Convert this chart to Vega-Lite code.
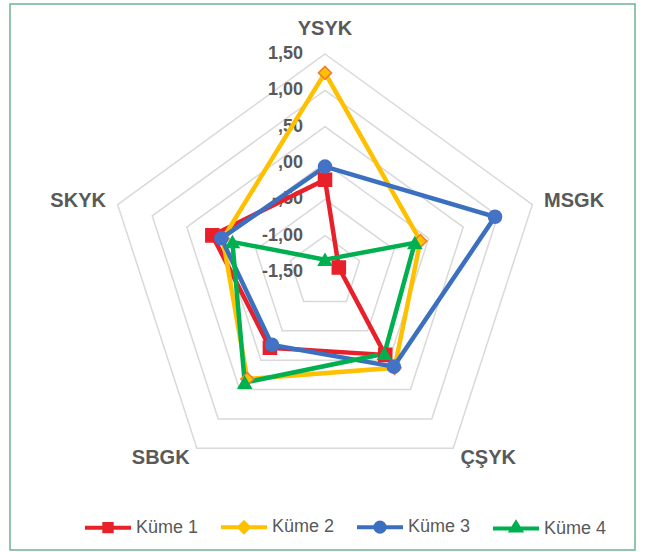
{
  "$schema": "https://vega.github.io/schema/vega-lite/v6.json",
  "width": 625,
  "height": 546,
  "padding": {"left": 10, "top": 4, "right": 12, "bottom": 2},
  "autosize": {"type": "none"},
  "background": "white",
  "config": {"view": {"stroke": "#6DB391", "strokeWidth": 1.5}, "font": "Liberation Sans"},
  "datasets": {
    "series": [
      {"series": "Küme 1", "axis": "YSYK", "value": -0.23},
      {"series": "Küme 1", "axis": "MSGK", "value": -1.30},
      {"series": "Küme 1", "axis": "ÇŞYK", "value": -0.09},
      {"series": "Küme 1", "axis": "SBGK", "value": -0.21},
      {"series": "Küme 1", "axis": "SKYK", "value": 0.13},
      {"series": "Küme 2", "axis": "YSYK", "value": 1.24},
      {"series": "Küme 2", "axis": "MSGK", "value": -0.12},
      {"series": "Küme 2", "axis": "ÇŞYK", "value": 0.13},
      {"series": "Küme 2", "axis": "SBGK", "value": 0.32},
      {"series": "Küme 2", "axis": "SKYK", "value": -0.02},
      {"series": "Küme 3", "axis": "YSYK", "value": -0.05},
      {"series": "Küme 3", "axis": "MSGK", "value": 0.96},
      {"series": "Küme 3", "axis": "ÇŞYK", "value": 0.11},
      {"series": "Küme 3", "axis": "SBGK", "value": -0.26},
      {"series": "Küme 3", "axis": "SKYK", "value": 0.00},
      {"series": "Küme 4", "axis": "YSYK", "value": -1.33},
      {"series": "Küme 4", "axis": "MSGK", "value": -0.20},
      {"series": "Küme 4", "axis": "ÇŞYK", "value": -0.11},
      {"series": "Küme 4", "axis": "SBGK", "value": 0.38},
      {"series": "Küme 4", "axis": "SKYK", "value": -0.16}
    ],
    "grid": [
      {"level": 1.5, "axis": ["YSYK", "MSGK", "ÇŞYK", "SBGK", "SKYK"]},
      {"level": 1.0, "axis": ["YSYK", "MSGK", "ÇŞYK", "SBGK", "SKYK"]},
      {"level": 0.5, "axis": ["YSYK", "MSGK", "ÇŞYK", "SBGK", "SKYK"]},
      {"level": 0.0, "axis": ["YSYK", "MSGK", "ÇŞYK", "SBGK", "SKYK"]},
      {"level": -0.5, "axis": ["YSYK", "MSGK", "ÇŞYK", "SBGK", "SKYK"]},
      {"level": -1.0, "axis": ["YSYK", "MSGK", "ÇŞYK", "SBGK", "SKYK"]}
    ],
    "ticks": [
      {"level": 1.5, "label": "1,50"},
      {"level": 1.0, "label": "1,00"},
      {"level": 0.5, "label": ",50"},
      {"level": 0.0, "label": ",00"},
      {"level": -0.5, "label": "-,50"},
      {"level": -1.0, "label": "-1,00"},
      {"level": -1.5, "label": "-1,50"}
    ],
    "cats": [
      {"axis": "YSYK"}, {"axis": "MSGK"}, {"axis": "ÇŞYK"}, {"axis": "SBGK"}, {"axis": "SKYK"}
    ]
  },
  "encoding": {
    "x": {"field": "px", "type": "quantitative", "scale": {"domain": [-4.335, 4.266], "nice": false, "zero": false}, "axis": null},
    "y": {"field": "py", "type": "quantitative", "scale": {"domain": [-3.826, 3.688], "nice": false, "zero": false}, "axis": null}
  },
  "layer": [
    {
      "data": {"name": "grid"},
      "transform": [
        {"flatten": ["axis"]},
        {"calculate": "indexof(['YSYK','MSGK','ÇŞYK','SBGK','SKYK'], datum.axis)", "as": "idx"},
        {"calculate": "(datum.level + 1.5) * sin(datum.idx * 2 * PI / 5)", "as": "px"},
        {"calculate": "(datum.level + 1.5) * cos(datum.idx * 2 * PI / 5)", "as": "py"}
      ],
      "mark": {"type": "line", "interpolate": "linear-closed", "stroke": "#D9D9D9", "strokeWidth": 1.5},
      "encoding": {"detail": {"field": "level"}, "order": {"field": "idx", "type": "quantitative"}}
    },
    {
      "data": {"name": "ticks"},
      "transform": [
        {"calculate": "0", "as": "px"},
        {"calculate": "datum.level + 1.5", "as": "py"}
      ],
      "mark": {"type": "text", "align": "right", "baseline": "middle", "dx": -22, "fontSize": 18, "fontWeight": "bold", "fill": "#595959"},
      "encoding": {"text": {"field": "label"}}
    },
    {
      "data": {"name": "series"},
      "transform": [
        {"calculate": "indexof(['YSYK','MSGK','ÇŞYK','SBGK','SKYK'], datum.axis)", "as": "idx"},
        {"calculate": "(datum.value + 1.5) * sin(datum.idx * 2 * PI / 5)", "as": "px"},
        {"calculate": "(datum.value + 1.5) * cos(datum.idx * 2 * PI / 5)", "as": "py"}
      ],
      "mark": {"type": "line", "interpolate": "linear-closed", "strokeWidth": 4.5},
      "encoding": {
        "order": {"field": "idx", "type": "quantitative"},
        "color": {
          "field": "series", "type": "nominal",
          "scale": {"domain": ["Küme 1", "Küme 2", "Küme 3", "Küme 4"], "range": ["#E8202A", "#FFC000", "#3B6FC0", "#00B050"]},
          "legend": {
            "orient": "none", "legendX": 73, "legendY": 498, "direction": "horizontal", "title": null,
            "symbolSize": 2116, "symbolStrokeWidth": 4, "symbolType": "M-1,0H1",
            "labelFontSize": 18, "labelColor": "#595959", "labelFont": "Liberation Sans", "labelOffset": 3, "columnPadding": 14,
            "encode": {
              "symbols": {
                "update": {
                  "shape": {"signal": "datum.value === 'Küme 1' ? 'M-1,0H1M-0.16,-0.16H0.16V0.16H-0.16Z' : datum.value === 'Küme 2' ? 'M-1,0H1M0,-0.2L0.2,0L0,0.2L-0.2,0Z' : datum.value === 'Küme 3' ? 'M-1,0H1M-0.2,0A0.2,0.2 0 1,0 0.2,0A0.2,0.2 0 1,0 -0.2,0Z' : 'M-1,0H1M0,-0.24L0.2,0.08H-0.2Z'"},
                  "fill": {"signal": "datum.value === 'Küme 2' ? '#ED7D31' : scale('color', datum.value)"},
                  "stroke": {"signal": "scale('color', datum.value)"},
                  "strokeWidth": {"value": 4},
                  "opacity": {"value": 1}
                }
              }
            }
          }
        }
      }
    },
    {
      "data": {"name": "series"},
      "transform": [
        {"calculate": "indexof(['YSYK','MSGK','ÇŞYK','SBGK','SKYK'], datum.axis)", "as": "idx"},
        {"calculate": "(datum.value + 1.5) * sin(datum.idx * 2 * PI / 5)", "as": "px"},
        {"calculate": "(datum.value + 1.5) * cos(datum.idx * 2 * PI / 5)", "as": "py"}
      ],
      "mark": {"type": "point", "filled": true, "size": 170, "opacity": 1, "strokeWidth": 1.5},
      "encoding": {
        "shape": {"field": "series", "type": "nominal", "scale": {"domain": ["Küme 1", "Küme 2", "Küme 3", "Küme 4"], "range": ["square", "diamond", "circle", "triangle-up"]}, "legend": null},
        "fill": {"field": "series", "type": "nominal", "scale": {"domain": ["Küme 1", "Küme 2", "Küme 3", "Küme 4"], "range": ["#E8202A", "#FFC000", "#4472C4", "#00B050"]}, "legend": null},
        "stroke": {"field": "series", "type": "nominal", "scale": {"domain": ["Küme 1", "Küme 2", "Küme 3", "Küme 4"], "range": ["#E8202A", "#ED7D31", "#4472C4", "#00B050"]}, "legend": null}
      }
    },
    {
      "data": {"name": "cats"},
      "transform": [
        {"calculate": "indexof(['YSYK','MSGK','ÇŞYK','SBGK','SKYK'], datum.axis)", "as": "idx"},
        {"filter": "datum.idx === 0"},
        {"calculate": "3.17 * sin(datum.idx * 2 * PI / 5)", "as": "px"},
        {"calculate": "3.17 * cos(datum.idx * 2 * PI / 5)", "as": "py"}
      ],
      "mark": {"type": "text", "align": "center", "baseline": "alphabetic", "dy": -7, "fontSize": 20, "fontWeight": "bold", "fill": "#595959"},
      "encoding": {"text": {"field": "axis"}}
    },
    {
      "data": {"name": "cats"},
      "transform": [
        {"calculate": "indexof(['YSYK','MSGK','ÇŞYK','SBGK','SKYK'], datum.axis)", "as": "idx"},
        {"filter": "datum.idx === 1 || datum.idx === 2"},
        {"calculate": "3.17 * sin(datum.idx * 2 * PI / 5)", "as": "px"},
        {"calculate": "3.17 * cos(datum.idx * 2 * PI / 5)", "as": "py"}
      ],
      "mark": {"type": "text", "align": "left", "baseline": "middle", "fontSize": 20, "fontWeight": "bold", "fill": "#595959"},
      "encoding": {"text": {"field": "axis"}}
    },
    {
      "data": {"name": "cats"},
      "transform": [
        {"calculate": "indexof(['YSYK','MSGK','ÇŞYK','SBGK','SKYK'], datum.axis)", "as": "idx"},
        {"filter": "datum.idx === 3 || datum.idx === 4"},
        {"calculate": "3.17 * sin(datum.idx * 2 * PI / 5)", "as": "px"},
        {"calculate": "3.17 * cos(datum.idx * 2 * PI / 5)", "as": "py"}
      ],
      "mark": {"type": "text", "align": "right", "baseline": "middle", "fontSize": 20, "fontWeight": "bold", "fill": "#595959"},
      "encoding": {"text": {"field": "axis"}}
    }
  ],
  "resolve": {"scale": {"shape": "independent"}}
}
